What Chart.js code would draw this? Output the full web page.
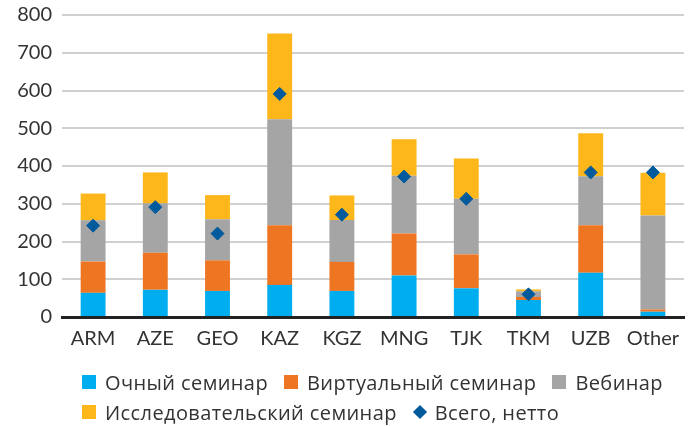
<!DOCTYPE html>
<html>
<head>
<meta charset="utf-8">
<script src="https://cdn.jsdelivr.net/npm/chart.js@4"></script>
<style>
  body { margin: 0; background: #fff; }
  #wrap { position: relative; width: 695px; height: 426px; }
  #legend { position: absolute; left: 82px; top: 367px; font-family: "Open Sans", sans-serif; font-size: 20px; letter-spacing: 0.4px; color: #333; }
  .row { display: flex; height: 30px; align-items: center; white-space: nowrap; }
  .item { display: flex; align-items: center; margin-right: 16px; }
  .box { width: 14px; height: 14px; margin-right: 9px; }
  .dia { width: 10px; height: 10px; margin: 0 10px 0 2px; transform: rotate(45deg); }
</style>
</head>
<body>
<div id="wrap">
  <canvas id="chart" width="695" height="426"></canvas>
  <div id="legend"></div>
</div>
<script>
// values
const categories = ['ARM', 'AZE', 'GEO', 'KAZ', 'KGZ', 'MNG', 'TJK', 'TKM', 'UZB', 'Other'];
const inPerson = [64, 72, 69, 85, 69, 110, 76, 45, 117, 14];
const virtualSem = [83, 98, 81, 158, 77, 111, 90, 8, 126, 6];
const webinar = [109, 131, 109, 281, 111, 153, 147, 15, 130, 249];
const research = [71, 82, 64, 227, 65, 97, 107, 5, 114, 113];
const netTotal = [242, 291, 221, 591, 271, 372, 313, 60, 383, 383];
const yTicks = [0, 100, 200, 300, 400, 500, 600, 700, 800];

const colors = ['#00AEEF', '#EE7623', '#A5A5A5', '#FDB71A', '#005A9C'];
const labels = ['Очный семинар', 'Виртуальный семинар', 'Вебинар', 'Исследовательский семинар', 'Всего, нетто'];

function barSet(i, data) {
    return {
        type: 'bar',
        label: labels[i],
        data: data,
        backgroundColor: colors[i],
        borderWidth: 0,
        barPercentage: 0.4,
        categoryPercentage: 1,
        order: 2
    };
}

const ctx = document.getElementById('chart').getContext('2d');
const chart = new Chart(ctx, {
    data: {
        labels: categories,
        datasets: [
            barSet(0, inPerson),
            barSet(1, virtualSem),
            barSet(2, webinar),
            barSet(3, research),
            {
                type: 'line',
                label: labels[4],
                data: netTotal,
                showLine: false,
                pointStyle: 'rectRot',
                pointRadius: 6.5,
                backgroundColor: colors[4],
                borderColor: colors[4],
                borderWidth: 1,
                order: 1
            }
        ]
    },
    options: {
        responsive: false,
        animation: false,
        layout: { padding: { top: 15, right: 11, bottom: 65, left: 0 } },
        plugins: { legend: { display: false }, tooltip: { enabled: false } },
        scales: {
            x: {
                stacked: true,
                grid: { display: false, drawTicks: false },
                border: { color: '#222', width: 3 },
                ticks: { color: '#333', padding: 10, font: { family: 'Lato', size: 20 } }
            },
            y: {
                stacked: true,
                min: 0,
                max: 800,
                afterFit: s => { s.width = 62; s.paddingTop = 0; s.paddingBottom = 0; },
                afterBuildTicks: s => { s.ticks = yTicks.map(v => ({ value: v })); },
                grid: { color: '#D0D0D0', lineWidth: 2, drawTicks: false },
                border: { display: false },
                ticks: { color: '#333', padding: 10, font: { family: 'Lato', size: 20 } }
            }
        }
    }
});

// legend below the chart, two rows like the original
const legend = document.getElementById('legend');
[[0, 1, 2], [3, 4]].forEach(group => {
    const row = document.createElement('div');
    row.className = 'row';
    group.forEach(i => {
        const item = document.createElement('div');
        item.className = 'item';
        const mark = document.createElement('span');
        mark.className = i === 4 ? 'dia' : 'box';
        mark.style.background = colors[i];
        item.appendChild(mark);
        item.appendChild(document.createTextNode(labels[i]));
        row.appendChild(item);
    });
    legend.appendChild(row);
});
</script>
</body>
</html>
